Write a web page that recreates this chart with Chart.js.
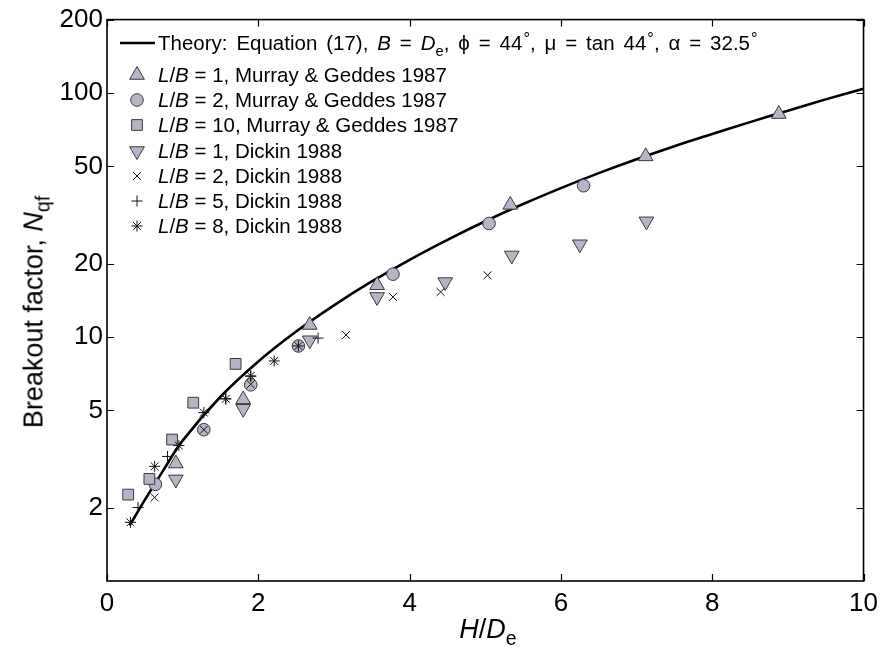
<!DOCTYPE html>
<html>
<head>
<meta charset="utf-8">
<script src="https://cdn.jsdelivr.net/npm/chart.js@4/dist/chart.umd.min.js"></script>
<style>
  html, body { margin: 0; padding: 0; background: #fff; }
  #wrap { position: relative; width: 885px; height: 653px; font-family: "Liberation Sans", Arial, Helvetica, sans-serif; color: #000; }
  #c { position: absolute; left: 0; top: 0; }
  .t { position: absolute; white-space: nowrap; line-height: 1; transform: translateY(-50%); }
  .leg { font-size: 20.5px; }
  .theory { word-spacing: 3.2px; }
  .sub { font-size: 0.72em; position: relative; top: 0.38em; }
  .deg { font-size: 0.8em; position: relative; top: -0.35em; margin-left: 1px; }
  #ytitle { position: absolute; left: 34px; top: 312px; font-size: 27px; white-space: nowrap; line-height: 1; transform: translate(-50%, -50%) rotate(-90deg); }
  #xtitle { position: absolute; left: 488px; top: 629px; font-size: 27px; white-space: nowrap; line-height: 1; transform: translate(-50%, -50%); }
</style>
</head>
<body>
<div id="wrap">
  <canvas id="c" width="885" height="653"></canvas>
  <div class="t leg theory" style="left:158px; top:43px;">Theory: Equation (17), <i>B</i> = <i>D</i><span class="sub">e</span>, ϕ = 44<span class="deg">°</span>, μ = tan 44<span class="deg">°</span>, α = 32.5<span class="deg">°</span></div>
  <div class="t leg" style="left:158px; top:75px;"><i>L</i>/<i>B</i> = 1, Murray &amp; Geddes 1987</div>
  <div class="t leg" style="left:158px; top:100px;"><i>L</i>/<i>B</i> = 2, Murray &amp; Geddes 1987</div>
  <div class="t leg" style="left:158px; top:125px;"><i>L</i>/<i>B</i> = 10, Murray &amp; Geddes 1987</div>
  <div class="t leg" style="left:158px; top:151px;"><i>L</i>/<i>B</i> = 1, Dickin 1988</div>
  <div class="t leg" style="left:158px; top:176px;"><i>L</i>/<i>B</i> = 2, Dickin 1988</div>
  <div class="t leg" style="left:158px; top:201px;"><i>L</i>/<i>B</i> = 5, Dickin 1988</div>
  <div class="t leg" style="left:158px; top:226px;"><i>L</i>/<i>B</i> = 8, Dickin 1988</div>
  <div id="ytitle">Breakout factor, <i>N</i><span class="sub">qf</span></div>
  <div id="xtitle"><i>H</i>/<i>D</i><span class="sub">e</span></div>
</div>
<script>
// ---------- data ----------
const theoryX = [0.3, 0.5, 0.75, 1, 1.5, 2, 2.5, 3, 3.5, 4, 4.5, 5, 5.5, 6, 6.5, 7, 7.5, 8, 8.5, 9, 9.5, 10];
const theoryY = [1.69, 2.15, 2.86, 3.76, 5.69, 7.94, 10.53, 13.49, 16.89, 20.73, 25.03, 29.82, 35.08, 40.78, 46.95, 53.53, 60.53, 67.92, 76.0, 84.7, 94.2, 104.2];

const mg1X = [0.91, 1.80, 2.68, 3.57, 5.33, 7.12, 8.88];
const mg1Y = [3.03, 5.55, 11.2, 16.3, 34.8, 55, 82];

const mg2X = [0.64, 1.28, 1.90, 2.53, 3.78, 5.05, 6.30];
const mg2Y = [2.49, 4.17, 6.37, 9.19, 18.1, 29.2, 41.7];

const mg10X = [0.28, 0.56, 0.86, 1.14, 1.70];
const mg10Y = [2.26, 2.62, 3.80, 5.38, 7.76];

const dk1X = [0.91, 1.80, 2.68, 3.57, 4.47, 5.35, 6.25, 7.13];
const dk1Y = [2.61, 5.08, 9.7, 14.6, 16.8, 21.6, 24.0, 29.8];

const dk2X = [0.63, 1.28, 1.90, 3.16, 3.78, 4.41, 5.03];
const dk2Y = [2.20, 4.17, 6.4, 10.2, 14.6, 15.3, 17.9];

const dk5X = [0.41, 0.80, 1.57, 1.90, 2.79];
const dk5Y = [2.0, 3.24, 5.58, 6.9, 9.9];

const dk8X = [0.31, 0.63, 0.95, 1.28, 1.57, 1.90, 2.21, 2.53];
const dk8Y = [1.74, 2.95, 3.59, 4.9, 5.58, 6.93, 7.98, 9.19];

const xTicks = [0, 2, 4, 6, 8, 10];
const yTicks = [2, 5, 10, 20, 50, 100, 200];

// ---------- styles ----------
const FILL = '#b5b5c6';
const EDGE = '#3a3a3a';
const pts = (xs, ys) => xs.map((x, i) => ({ x: x, y: ys[i] }));

const markerSets = [
  { data: pts(mg1X, mg1Y), style: 'triangle', r: 8.5, rot: 0, filled: true },
  { data: pts(mg2X, mg2Y), style: 'circle', r: 6.3, rot: 0, filled: true },
  { data: pts(mg10X, mg10Y), style: 'rect', r: 7.6, rot: 0, filled: true },
  { data: pts(dk1X, dk1Y), style: 'triangle', r: 8.5, rot: 180, filled: true },
  { data: pts(dk2X, dk2Y), style: 'crossRot', r: 5.6, rot: 0, filled: false },
  { data: pts(dk5X, dk5Y), style: 'cross', r: 5.5, rot: 0, filled: false },
  { data: pts(dk8X, dk8Y), style: 'star', r: 5.5, rot: 0, filled: false }
];

const datasets = [{
  type: 'line',
  data: pts(theoryX, theoryY),
  borderColor: '#000',
  borderWidth: 2.6,
  pointRadius: 0,
  pointHoverRadius: 0,
  showLine: true,
  fill: false,
  tension: 0.4,
  order: 10
}];
markerSets.forEach((m, i) => {
  datasets.push({
    type: 'scatter',
    data: m.data,
    pointStyle: m.style,
    pointRadius: m.r,
    pointHoverRadius: m.r,
    pointRotation: m.rot,
    backgroundColor: m.filled ? FILL : 'rgba(0,0,0,0)',
    borderColor: m.filled ? EDGE : '#111',
    borderWidth: 1,
    showLine: false,
    order: 8 - i
  });
});

// ---------- own marker drawing for legend ----------
function drawMarker(ctx, m, x, y) {
  ctx.save();
  ctx.fillStyle = m.filled ? FILL : 'rgba(0,0,0,0)';
  ctx.strokeStyle = m.filled ? EDGE : '#111';
  ctx.lineWidth = 1;
  const r = m.r;
  ctx.beginPath();
  if (m.style === 'triangle') {
    let a = m.rot * Math.PI / 180;
    ctx.moveTo(x + Math.sin(a) * r, y - Math.cos(a) * r);
    a += 2 * Math.PI / 3;
    ctx.lineTo(x + Math.sin(a) * r, y - Math.cos(a) * r);
    a += 2 * Math.PI / 3;
    ctx.lineTo(x + Math.sin(a) * r, y - Math.cos(a) * r);
    ctx.closePath();
    ctx.fill(); ctx.stroke();
  } else if (m.style === 'circle') {
    ctx.arc(x, y, r, 0, Math.PI * 2);
    ctx.fill(); ctx.stroke();
  } else if (m.style === 'rect') {
    const s = r * Math.SQRT1_2;
    ctx.rect(x - s, y - s, 2 * s, 2 * s);
    ctx.fill(); ctx.stroke();
  } else {
    const d = r * Math.SQRT1_2;
    if (m.style === 'cross' || m.style === 'star') {
      ctx.moveTo(x - r, y); ctx.lineTo(x + r, y);
      ctx.moveTo(x, y - r); ctx.lineTo(x, y + r);
    }
    if (m.style === 'crossRot' || m.style === 'star') {
      ctx.moveTo(x - d, y - d); ctx.lineTo(x + d, y + d);
      ctx.moveTo(x - d, y + d); ctx.lineTo(x + d, y - d);
    }
    ctx.stroke();
  }
  ctx.restore();
}

const legendRows = [75, 100, 125, 151, 176, 201, 226];

const framePlugin = {
  id: 'frame',
  afterDatasetsDraw(chart) {
    const ctx = chart.ctx;
    const a = chart.chartArea;
    const xs = chart.scales.x, ys = chart.scales.y;
    ctx.save();
    ctx.strokeStyle = '#000';
    ctx.lineWidth = 1.6;
    ctx.strokeRect(a.left, a.top, a.right - a.left, a.bottom - a.top);
    ctx.lineWidth = 1.2;
    const tl = 7;
    ctx.beginPath();
    xTicks.forEach(v => {
      const px = Math.round(xs.getPixelForValue(v)) + 0.5;
      ctx.moveTo(px, a.bottom); ctx.lineTo(px, a.bottom - tl);
      ctx.moveTo(px, a.top); ctx.lineTo(px, a.top + tl);
    });
    yTicks.forEach(v => {
      const py = Math.round(ys.getPixelForValue(v)) + 0.5;
      ctx.moveTo(a.left, py); ctx.lineTo(a.left + tl, py);
      ctx.moveTo(a.right, py); ctx.lineTo(a.right - tl, py);
    });
    ctx.stroke();
    ctx.restore();
  },
  afterDraw(chart) {
    const ctx = chart.ctx;
    ctx.save();
    ctx.strokeStyle = '#000';
    ctx.lineWidth = 2.4;
    ctx.beginPath();
    ctx.moveTo(120, 43); ctx.lineTo(155, 43);
    ctx.stroke();
    ctx.restore();
    markerSets.forEach((m, i) => drawMarker(ctx, m, 137, legendRows[i]));
  }
};

new Chart(document.getElementById('c'), {
  type: 'scatter',
  data: { datasets: datasets },
  options: {
    responsive: false,
    devicePixelRatio: 1,
    animation: false,
    layout: { padding: { top: 16, right: 16, left: 0, bottom: 0 } },
    plugins: { legend: { display: false }, tooltip: { enabled: false } },
    scales: {
      x: {
        type: 'linear', min: 0, max: 10,
        afterBuildTicks: s => { s.ticks = xTicks.map(v => ({ value: v })); },
        ticks: { font: { family: '"Liberation Sans", Arial, sans-serif', size: 26 }, color: '#000', padding: 7, maxRotation: 0, callback: v => String(v) },
        grid: { display: false, drawTicks: false },
        border: { display: false },
        afterFit: s => { s.height = 72; }
      },
      y: {
        type: 'logarithmic', min: 1, max: 200,
        afterBuildTicks: s => { s.ticks = yTicks.map(v => ({ value: v })); },
        ticks: { font: { family: '"Liberation Sans", Arial, sans-serif', size: 26 }, color: '#000', padding: 4, callback: v => String(v) },
        grid: { display: false, drawTicks: false },
        border: { display: false },
        afterFit: s => { s.width = 107; }
      }
    }
  },
  plugins: [framePlugin]
});
</script>
</body>
</html>
